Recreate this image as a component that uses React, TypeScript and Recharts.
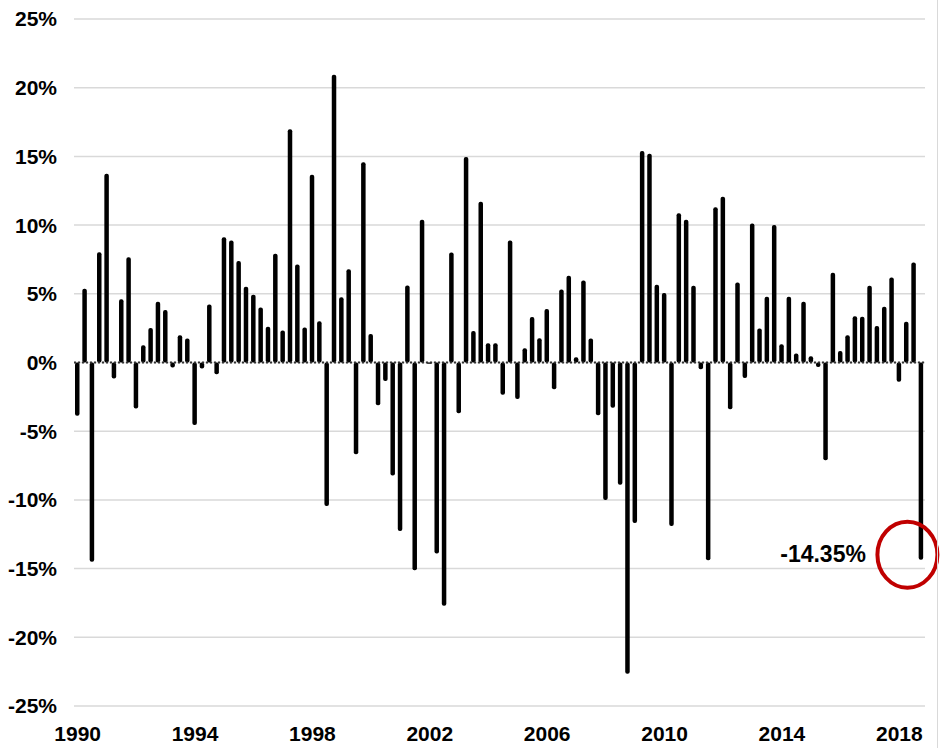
import { Bar, BarChart, CartesianGrid, LabelList, ReferenceLine, XAxis, YAxis } from "recharts"

// Quarterly returns, one row per year (Q1..Q4)
const YEARS = [
  1990, 1991, 1992, 1993, 1994, 1995, 1996, 1997, 1998, 1999, 2000, 2001, 2002, 2003, 2004,
  2005, 2006, 2007, 2008, 2009, 2010, 2011, 2012, 2013, 2014, 2015, 2016, 2017, 2018,
]
const QUARTERS = ["Q1", "Q2", "Q3", "Q4"]

const RETURNS = [
  -3.87, 5.37, -14.5, 8.03, // 1990
  13.74, -1.16, 4.6, 7.66, // 1991
  -3.34, 1.26, 2.51, 4.42, // 1992
  3.82, -0.36, 1.98, 1.74, // 1993
  -4.55, -0.44, 4.23, -0.85, // 1994
  9.12, 8.88, 7.38, 5.52, // 1995
  4.93, 4.01, 2.61, 7.91, // 1996
  2.32, 16.98, 7.13, 2.55, // 1997
  13.66, 3.01, -10.44, 20.94, // 1998
  4.75, 6.78, -6.68, 14.57, // 1999
  2.08, -3.12, -1.35, -8.23, // 2000
  -12.26, 5.61, -15.12, 10.39, // 2001
  -0.1, -13.9, -17.7, 8.0, // 2002
  -3.69, 14.96, 2.29, 11.7, // 2003
  1.4, 1.4, -2.34, 8.88, // 2004
  -2.65, 1.04, 3.32, 1.77, // 2005
  3.9, -1.95, 5.32, 6.31, // 2006
  0.39, 5.97, 1.74, -3.84, // 2007
  -10.0, -3.3, -8.9, -22.65, // 2008
  -11.69, 15.4, 15.19, 5.66, // 2009
  5.06, -11.9, 10.86, 10.39, // 2010
  5.58, -0.5, -14.4, 11.3, // 2011
  12.07, -3.4, 5.83, -1.12, // 2012
  10.12, 2.48, 4.78, 10.0, // 2013
  1.33, 4.78, 0.66, 4.42, // 2014
  0.46, -0.32, -7.11, 6.53, // 2015
  0.83, 1.99, 3.37, 3.33, // 2016
  5.58, 2.65, 4.05, 6.19, // 2017
  -1.41, 2.96, 7.28, -14.35, // 2018
]

const YEAR_TICKS = ["1990", "1994", "1998", "2002", "2006", "2010", "2014", "2018"]
const Y_TICKS = [-25, -20, -15, -10, -5, 0, 5, 10, 15, 20, 25]

const data = YEARS.flatMap((year, i) =>
  QUARTERS.map((q, j) => ({ quarter: `${year}${q}`, value: RETURNS[i * 4 + j] })),
)
const LAST = data.length - 1

const FONT = "Arial, 'Liberation Sans', sans-serif"

// callout for the most recent quarter: value text plus a red ring round the bar end
function LastQuarterLabel(props: any) {
  const { index, value } = props
  if (index !== LAST) return null
  const x = props.x ?? props.viewBox?.x
  const y = props.y ?? props.viewBox?.y
  const width = props.width ?? props.viewBox?.width
  const height = props.height ?? props.viewBox?.height
  const cx = x + width / 2
  const bottom = Math.max(y, y + height)
  return (
    <g>
      <text
        x={cx - 55}
        y={bottom - 4}
        textAnchor="end"
        dominantBaseline="middle"
        fontFamily={FONT}
        fontWeight="bold"
        fontSize={23}
        fill="#000"
      >
        {`${value.toFixed(2)}%`}
      </text>
      <ellipse cx={cx - 13.5} cy={bottom - 5} rx={30} ry={33} fill="none" stroke="#C00000" strokeWidth={4} />
    </g>
  )
}

export default function App() {
  return (
    <div style={{ position: "absolute", left: 0, top: 0, width: 944, height: 748, background: "#fff" }}>
      <BarChart
        width={944}
        height={748}
        data={data}
        margin={{ top: 19, right: 19, bottom: 0, left: 0 }}
        barCategoryGap={0}
      >
        <CartesianGrid horizontal vertical={false} stroke="#d9d9d9" strokeWidth={1.5} />
        <XAxis
          dataKey="quarter"
          interval={0}
          height={42}
          axisLine={false}
          tickLine={false}
          tickSize={0}
          tickMargin={20}
          tick={{ fill: "#000", fontSize: 21, fontWeight: "bold", fontFamily: FONT }}
          tickFormatter={(q: string) => (q.endsWith("Q1") && YEAR_TICKS.includes(q.slice(0, 4)) ? q.slice(0, 4) : "")}
        />
        <YAxis
          type="number"
          domain={[-25, 25]}
          ticks={Y_TICKS}
          width={74}
          axisLine={false}
          tickLine={false}
          tickSize={0}
          tickMargin={17}
          tick={{ fill: "#000", fontSize: 21, fontWeight: "bold", fontFamily: FONT }}
          tickFormatter={(v: number) => `${v}%`}
        />
        <Bar dataKey="value" fill="#000" barSize={4.5} radius={2} isAnimationActive={false}>
          <LabelList dataKey="value" content={LastQuarterLabel} />
        </Bar>
        <ReferenceLine y={0} stroke="#333" strokeWidth={2} strokeDasharray="2 2" />
      </BarChart>
      <div style={{ position: "absolute", left: 937, top: 0, width: 1, height: 748, background: "#d9d9d9" }} />
    </div>
  )
}
